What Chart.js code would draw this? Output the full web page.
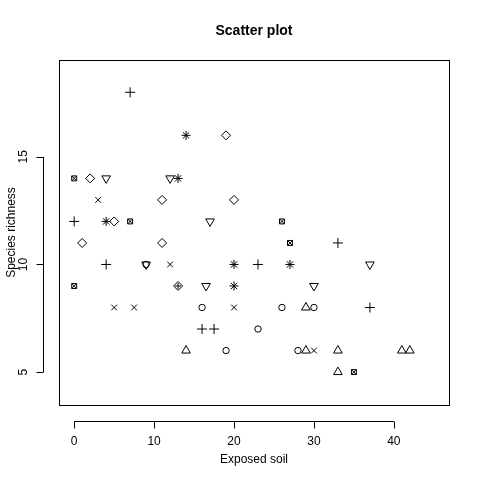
<!DOCTYPE html>
<html>
<head>
<meta charset="utf-8">
<script src="https://cdn.jsdelivr.net/npm/chart.js@4"></script>
<style>
  body { margin: 0; background: #fff; }
  #wrap { width: 480px; height: 480px; }
</style>
</head>
<body>
<div id="wrap"><canvas id="chart"></canvas></div>
<script>
// points per symbol: [exposed soil, species richness]
const circles = [[9, 10], [16, 8], [19, 6], [23, 7], [26, 8], [28, 6], [30, 8]];
const triangles = [[14, 6], [29, 6], [29, 8], [33, 6], [33, 5], [41, 6], [42, 6]];
const plusses = [[0, 12], [4, 10], [7, 18], [16, 7], [17.5, 7], [23, 10], [33, 11], [37, 8]];
const crosses = [[3, 13], [5, 8], [7.5, 8], [12, 10], [20, 8], [30, 6]];
const diamonds = [[2, 14], [1, 11], [5, 12], [11, 13], [11, 11], [19, 16], [20, 13]];
const downTriangles = [[4, 14], [12, 14], [17, 12], [16.5, 9], [9, 10], [30, 9], [37, 10]];
const boxedCrosses = [[0, 14], [0, 9], [7, 12], [26, 12], [27, 11], [35, 5]];
const stars = [[14, 16], [13, 14], [4, 12], [20, 10], [27, 10], [20, 9]];
const diamondPlus = [[13, 9]];

const xTicks = [0, 10, 20, 30, 40];
const yTicks = [5, 10, 15];

const toXY = (arr) => arr.map(p => ({ x: p[0], y: p[1] }));

function set(data, style, opts) {
  return Object.assign({
    data: toXY(data),
    pointStyle: style,
    pointRadius: 4,
    pointBorderColor: "#000",
    pointBackgroundColor: "rgba(0,0,0,0)",
    pointBorderWidth: 1,
  }, opts || {});
}

const font = "Liberation Sans, Arial, sans-serif";

const rStyle = {
  id: "rStyle",
  afterDraw(chart) {
    const c = chart.ctx;
    const a = chart.chartArea;
    const xs = chart.scales.x, ys = chart.scales.y;
    c.save();
    c.strokeStyle = "#000";
    c.fillStyle = "#000";
    c.lineWidth = 1;
    c.strokeRect(a.left + 0.5, a.top + 0.5, a.right - a.left, a.bottom - a.top);
    // x axis
    const ay = a.bottom + 16.5;
    c.beginPath();
    c.moveTo(xs.getPixelForValue(xTicks[0]), ay);
    c.lineTo(xs.getPixelForValue(xTicks[xTicks.length - 1]), ay);
    xTicks.forEach(t => {
      const px = Math.round(xs.getPixelForValue(t)) + 0.5;
      c.moveTo(px, ay); c.lineTo(px, ay + 7);
    });
    // y axis
    const ax = a.left - 15.5;
    c.moveTo(ax, ys.getPixelForValue(yTicks[0]));
    c.lineTo(ax, ys.getPixelForValue(yTicks[yTicks.length - 1]));
    yTicks.forEach(t => {
      const py = Math.round(ys.getPixelForValue(t)) + 0.5;
      c.moveTo(ax, py); c.lineTo(ax - 7, py);
    });
    c.stroke();
    c.font = "12px " + font;
    c.textAlign = "center";
    c.textBaseline = "middle";
    xTicks.forEach(t => c.fillText(String(t), xs.getPixelForValue(t), ay + 20));
    yTicks.forEach(t => {
      c.save();
      c.translate(ax - 20, ys.getPixelForValue(t));
      c.rotate(-Math.PI / 2);
      c.fillText(String(t), 0, 0);
      c.restore();
    });
    c.fillText("Exposed soil", (a.left + a.right) / 2, 460);
    c.save();
    c.translate(12, (a.top + a.bottom) / 2);
    c.rotate(-Math.PI / 2);
    c.fillText("Species richness", 0, 0);
    c.restore();
    c.font = "bold 14px " + font;
    c.fillText("Scatter plot", (a.left + a.right) / 2, 31);
    c.restore();
  }
};

new Chart(document.getElementById("chart"), {
  type: "scatter",
  data: {
    datasets: [
      set(circles, "circle", { pointRadius: 3.2 }),
      set(triangles, "triangle", { pointRadius: 5 }),
      set(plusses, "cross", { pointRadius: 5 }),
      set(crosses, "crossRot", { pointRadius: 4 }),
      set(diamonds, "rectRot", { pointRadius: 4.5 }),
      set(downTriangles, "triangle", { pointRadius: 5, rotation: 180 }),
      set(boxedCrosses, "rect", { pointRadius: 3.5 }),
      set(boxedCrosses, "crossRot", { pointRadius: 3.5 }),
      set(stars, "star", { pointRadius: 4.5 }),
      set(diamondPlus, "rectRot", { pointRadius: 4.5 }),
      set(diamondPlus, "cross", { pointRadius: 3 }),
    ],
  },
  options: {
    responsive: true,
    maintainAspectRatio: false,
    animation: false,
    layout: { padding: { top: 60, right: 31, left: 0, bottom: 0 } },
    plugins: { legend: { display: false }, tooltip: { enabled: false } },
    scales: {
      x: {
        type: "linear", min: -1.9, max: 46.9,
        grid: { display: false }, border: { display: false },
        ticks: { display: false },
        afterFit(s) { s.height = 75; },
      },
      y: {
        type: "linear", min: 3.47, max: 19.5,
        grid: { display: false }, border: { display: false },
        ticks: { display: false },
        afterFit(s) { s.width = 59; },
      },
    },
  },
  plugins: [rStyle],
});
</script>
</body>
</html>
